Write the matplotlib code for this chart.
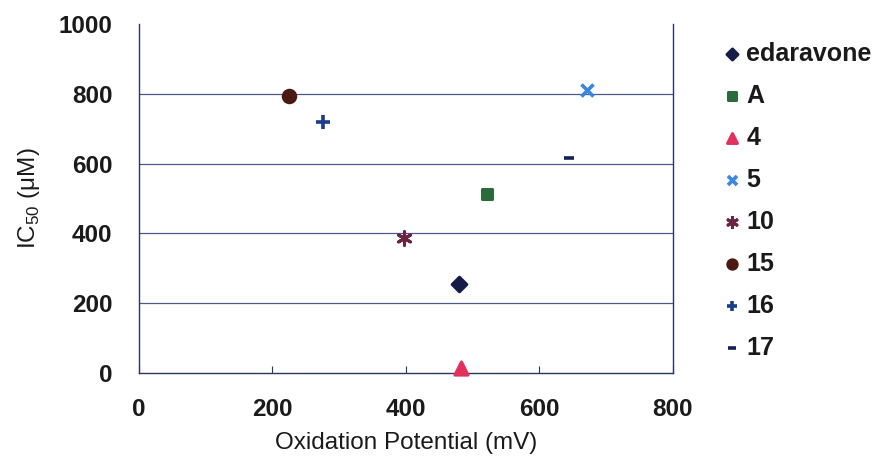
import matplotlib
matplotlib.use("Agg")
import matplotlib.pyplot as plt

plt.rcParams['font.family'] = ['Liberation Sans', 'DejaVu Sans']

# compounds, oxidation potential (mV) vs IC50 (uM)
names = ['edaravone', 'A', '4', '5', '10', '15', '16', '17']
ox_pot = [480, 522, 482, 671, 397, 225, 276, 644]
ic50 = [254, 512, 15, 810, 386, 795, 719, 616]

markers = ['D', 's', '^', 'x', (6, 2, 0), 'o', '+', '_']
colors = ['#151c48', '#2b6a3c', '#e0325c', '#3a86e2', '#6a2440', '#4a1a12', '#1c3c8c', '#15205a']
sizes = [55, 60, 90, 75, 95, 80, 90, 60]

fig = plt.figure(figsize=(8.9, 4.71), dpi=100)
ax = fig.add_axes([0.156, 0.208, 0.6, 0.741])

for i in range(len(names)):
    lw = 2.6 if markers[i] in ('x', '+', '_') else 2.2
    ax.scatter(ox_pot[i], ic50[i], marker=markers[i], s=sizes[i], color=colors[i],
               linewidths=lw, label=names[i], zorder=3, clip_on=False)

ax.set_xlim(0, 800)
ax.set_ylim(0, 1000)
ax.set_xticks([0, 200, 400, 600, 800])
ax.set_yticks([0, 200, 400, 600, 800, 1000])
for y in [200, 400, 600, 800]:
    ax.axhline(y, color='#4a5a8a', lw=0.9, zorder=1)

ax.spines['top'].set_visible(False)
for s in ['left', 'right', 'bottom']:
    ax.spines[s].set_color('#2a3560')
    ax.spines[s].set_linewidth(1.0)

ax.tick_params(axis='x', direction='in', length=5, color='#2a3560', pad=18,
               labelsize=17.5)
ax.tick_params(axis='y', length=0, pad=19, labelsize=17.5)
for lbl in ax.get_xticklabels() + ax.get_yticklabels():
    lbl.set_fontweight('bold')
    lbl.set_color('#1a1a1a')

ax.set_xlabel('Oxidation Potential (mV)', fontsize=17.5, labelpad=8, color='#1a1a1a')
ax.set_ylabel('IC$_{\\mathregular{50}}$ (μM)', fontsize=17.5, labelpad=12, color='#1a1a1a')

leg = ax.legend(loc='upper left', bbox_to_anchor=(1.06, 1.0), frameon=False,
                fontsize=18, labelspacing=0.72, handletextpad=0.15,
                handlelength=0.8, markerscale=0.75, borderpad=0.2)
for t in leg.get_texts():
    t.set_fontweight('bold')
    t.set_color('#1a1a1a')

fig.savefig('out.png', dpi=100)
